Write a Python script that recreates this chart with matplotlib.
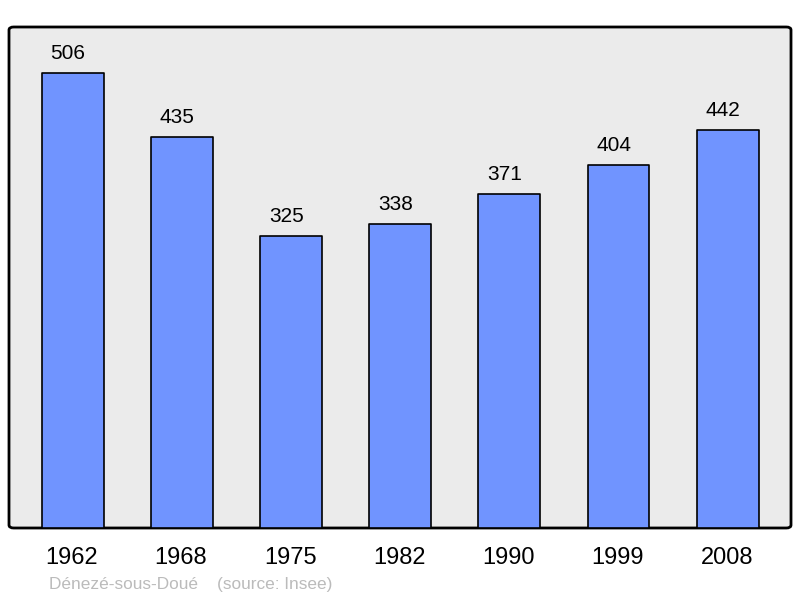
import matplotlib.pyplot as plt
from matplotlib.patches import FancyBboxPatch

plt.rcParams['font.family'] = ['Liberation Sans', 'DejaVu Sans']

# Données
annees = ["1962", "1968", "1975", "1982", "1990", "1999", "2008"]
population = [506, 435, 325, 338, 371, 404, 442]
commune = "Dénezé-sous-Doué"
source = "(source: Insee)"

fig = plt.figure(figsize=(8, 5.98), dpi=100)
ax = fig.add_axes([9 / 800, 70 / 598, 782 / 800, 501 / 598])
ax.set_facecolor("none")

# cadre arrondi
cadre = FancyBboxPatch((0, 0), 1, 1, boxstyle="round,pad=0,rounding_size=0.006",
                       transform=ax.transAxes, facecolor="#ebebeb",
                       edgecolor="black", linewidth=2, zorder=0, clip_on=False)
ax.add_patch(cadre)

x = range(len(annees))
barres = ax.bar(x, population, width=0.567, color="#7094ff",
                edgecolor="black", linewidth=1.2, zorder=2)
for b in barres:
    b.set_joinstyle("round")

for i, v in zip(x, population):
    ax.annotate(str(v), xy=(i, v), xytext=(-3.6, 14), textcoords="offset points",
                ha="center", va="center", fontsize=15)
    ax.annotate(annees[i], xy=(i, 0), xycoords=("data", "axes fraction"),
                xytext=(-0.7, -21.5), textcoords="offset points",
                ha="center", va="center", fontsize=17)

ax.set_xlim(-0.585, 6.58)
ax.set_ylim(0, 557)
ax.set_xticks([])
ax.set_yticks([])
for s in ax.spines.values():
    s.set_visible(False)

fig.text(49 / 800, 1 - 585 / 598, commune + "    " + source,
         color="#bbbbbb", fontsize=12.4, ha="left", va="center")

plt.savefig("out.png")
